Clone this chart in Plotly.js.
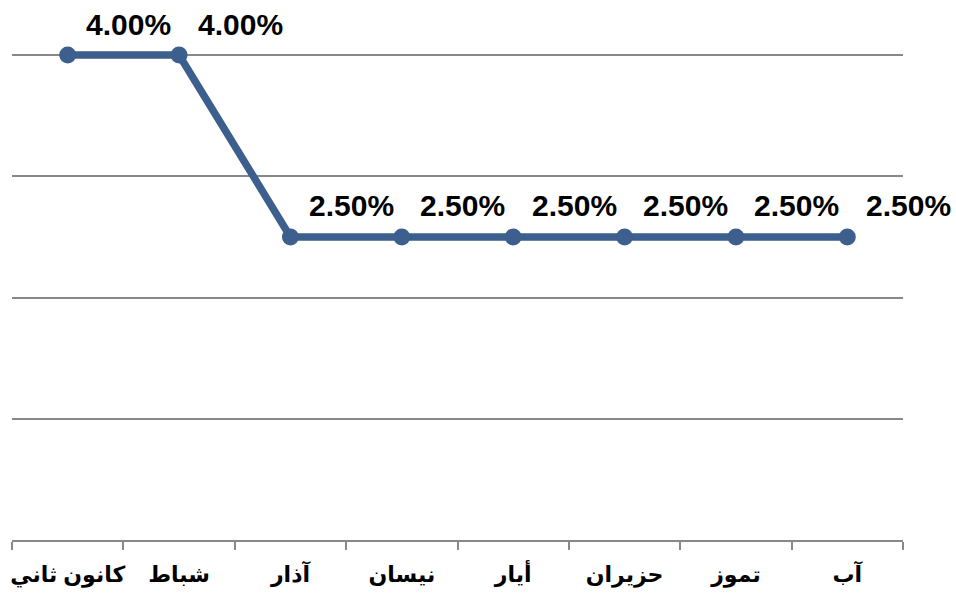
<!DOCTYPE html>
<html>
<head>
<meta charset="utf-8">
<script src="https://cdn.plot.ly/plotly-3.0.1.min.js"></script>
<style>html,body{margin:0;padding:0;background:#fff;}#chart{width:956px;height:602px;}</style>
</head>
<body>
<div id="chart"></div>
<script>
const months = ["كانون ثاني", "شباط", "آذار", "نيسان", "أيار", "حزيران", "تموز", "آب"];
const rates = [4.00, 4.00, 2.50, 2.50, 2.50, 2.50, 2.50, 2.50];
const labels = rates.map(v => v.toFixed(2) + "%");

const trace = {
  x: months,
  y: rates,
  type: "scatter",
  mode: "lines+markers",
  line: {color: "#3C5F8D", width: 7.5},
  marker: {color: "#3C5F8D", size: 17},
  cliponaxis: false,
  hoverinfo: "skip"
};

const annotations = months.map((m, i) => ({
  x: m, y: rates[i], xref: "x", yref: "y",
  text: "<b>" + labels[i] + "</b>",
  showarrow: false, xanchor: "center", yanchor: "middle",
  xshift: 61, yshift: 31,
  font: {family: "Arial, Liberation Sans, sans-serif", size: 30, color: "#000"}
}));

const layout = {
  width: 956, height: 602,
  margin: {l: 12, r: 53, t: 49, b: 62},
  paper_bgcolor: "#fff", plot_bgcolor: "#fff",
  showlegend: false,
  xaxis: {
    type: "category",
    range: [-0.5, 7.5],
    tickson: "boundaries",
    tickangle: 0,
    ticks: "outside", ticklen: 8, tickwidth: 2, tickcolor: "#888",
    ticklabelstandoff: 14,
    showline: true, linecolor: "#888", linewidth: 2,
    showgrid: false, zeroline: false,
    tickfont: {family: "Arial, DejaVu Sans, sans-serif", size: 22, color: "#000", weight: "bold"},
    automargin: false
  },
  yaxis: {
    range: [0, 4.05], tickvals: [1, 2, 3, 4],
    showticklabels: false,
    showgrid: true, gridcolor: "#888", gridwidth: 2,
    zeroline: false, showline: false, ticks: "",
    automargin: false
  },
  annotations: annotations
};

Plotly.newPlot("chart", [trace], layout, {displayModeBar: false, staticPlot: true});
</script>
</body>
</html>
